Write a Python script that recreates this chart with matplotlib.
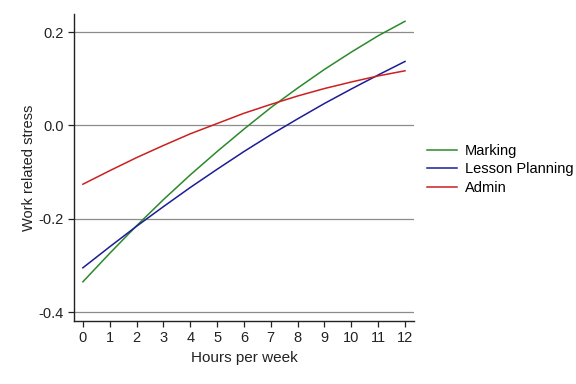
import matplotlib
matplotlib.use('Agg')
import matplotlib.pyplot as plt

plt.rcParams['font.family'] = ['Liberation Sans', 'DejaVu Sans']

# Hours per week and estimated fitted stress values
hours = [0, 1, 2, 3, 4, 5, 6, 7, 8, 9, 10, 11, 12]
marking = [-0.335, -0.274, -0.215, -0.159, -0.106, -0.056, -0.008,
           0.038, 0.080, 0.120, 0.157, 0.192, 0.223]
lesson_planning = [-0.305, -0.260, -0.216, -0.174, -0.133, -0.094, -0.056,
                   -0.020, 0.014, 0.047, 0.078, 0.108, 0.137]
admin = [-0.126, -0.097, -0.069, -0.043, -0.018, 0.004, 0.026,
         0.045, 0.063, 0.079, 0.093, 0.106, 0.117]
yticks = [-0.4, -0.2, 0.0, 0.2]
ytick_labels = ['-0.4', '-0.2', '0.0', '0.2']

fig = plt.figure(figsize=(5.76, 3.84), dpi=100)
ax = fig.add_axes([0.1285, 0.164, 0.59, 0.7995])

ax.plot(hours, marking, color='#2a8a2a', lw=1.1, label='Marking')
ax.plot(hours, lesson_planning, color='#1c1c96', lw=1.1, label='Lesson Planning')
ax.plot(hours, admin, color='#cc2020', lw=1.1, label='Admin')

ax.set_xlim(-0.33, 12.33)
ax.set_ylim(-0.419, 0.2386)
ax.set_xticks(hours)
ax.set_yticks(yticks)
ax.set_yticklabels(ytick_labels)
ax.yaxis.grid(True, color='#8c8c8c', lw=0.9)
ax.set_axisbelow(True)

for s in ['top', 'right']:
    ax.spines[s].set_visible(False)
for s in ['left', 'bottom']:
    ax.spines[s].set_color('#222222')
    ax.spines[s].set_linewidth(1.0)
ax.tick_params(axis='both', labelsize=10.5, colors='#222222', length=4, width=0.9)

ax.set_xlabel('Hours per week', fontsize=11, color='#222222')
ax.set_ylabel('Work related stress', fontsize=10.5, color='#222222', labelpad=2)

fig.legend(*ax.get_legend_handles_labels(), loc='upper left',
           bbox_to_anchor=(0.7413, 0.625), frameon=False,
           fontsize=10.5, handlelength=2.05, handletextpad=0.55,
           labelspacing=0.3, borderpad=0, borderaxespad=0)

fig.savefig('out.png', dpi=100, facecolor='white')
